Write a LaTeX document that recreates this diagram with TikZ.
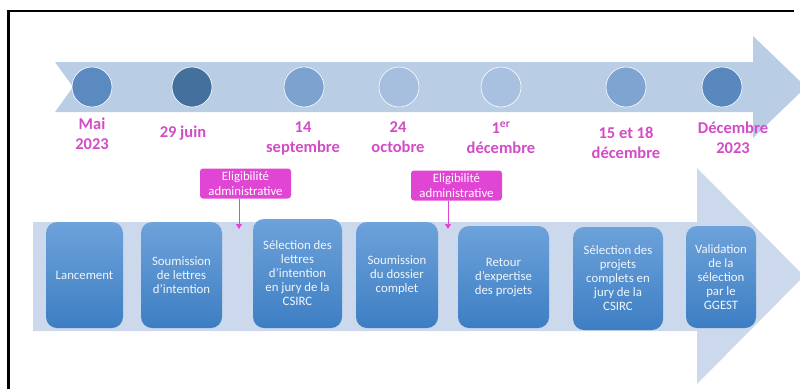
\documentclass[tikz,border=0pt]{standalone}
\usepackage{fontspec}
\setmainfont{Carlito}
\usetikzlibrary{arrows.meta}
\definecolor{bandtop}{HTML}{B9CDE5}
\definecolor{bandlow}{HTML}{CCD9EC}
\definecolor{datepink}{HTML}{D24CC6}
\definecolor{checkpink}{HTML}{E046D3}
\definecolor{boxtop}{HTML}{6DA2DA}
\definecolor{boxbottom}{HTML}{3D7EC3}
\definecolor{boxtext}{HTML}{F2F6FB}
\definecolor{dotA}{HTML}{5A8AC0}
\definecolor{dotB}{HTML}{44709E}
\definecolor{dotC}{HTML}{7CA2CF}
\definecolor{dotD}{HTML}{A6BFDF}
\definecolor{dotE}{HTML}{A9C1E0}
\definecolor{dotF}{HTML}{7EA4D1}
\definecolor{dotG}{HTML}{5888BD}
\begin{document}
\begin{tikzpicture}[x=1pt,y=-1pt,
  date node/.style={font=\fontsize{16.5}{20}\selectfont\bfseries,text=datepink,align=center,inner sep=0pt},
  dot node/.style={circle,draw=white,line width=0.6pt,minimum size=40pt,inner sep=0pt},
  stage node/.style={rounded corners=11pt,top color=boxtop,bottom color=boxbottom,text=boxtext,align=center,inner sep=0pt,font=\fontsize{12.8}{14}\selectfont},
  check node/.style={fill=checkpink,rounded corners=3pt,text=white,align=center,inner sep=0pt,minimum width=91pt,minimum height=30pt,font=\fontsize{12.8}{15.5}\selectfont},
  check arrow/.style={draw=checkpink,line width=1pt,-{Triangle[width=6pt,length=5pt]}}]

  \useasboundingbox (0,0) rectangle (800,389);

  % arrows
  \fill[bandtop] (55,62) -- (753,62) -- (753,36) -- (806,87) -- (753,138) -- (753,112) -- (55,112) -- (73,87) -- cycle;
  \fill[bandlow] (33,222) -- (697,222) -- (697,168) -- (804,276) -- (697,384) -- (697,331) -- (33,331) -- cycle;

  % frame
  \draw[line width=2.6pt] (8.5,389) -- (8.5,11) -- (794,11);

  \node[dot node,fill=dotA] (1) at (92,87) {};
  \node[dot node,fill=dotB] (2) at (192,87) {};
  \node[dot node,fill=dotC] (3) at (304,87) {};
  \node[dot node,fill=dotD] (4) at (399,87) {};
  \node[dot node,fill=dotE] (5) at (501,87) {};
  \node[dot node,fill=dotF] (6) at (626,87) {};
  \node[dot node,fill=dotG] (7) at (722,87) {};

  \node[date node] (may) at (92,134) {Mai\\2023};
  \node[date node] (june) at (183,133) {29 juin};
  \node[date node] (sept) at (303,138) {14\\septembre};
  \node[date node] (oct) at (398,137) {24\\octobre};
  \node[date node] (dec1) at (501,138) {1\textsuperscript{er}\\décembre};
  \node[date node] (dec15) at (626,143) {15 et 18\\décembre};
  \node[date node] (dec23) at (733,138) {Décembre\\2023};

  \node[check node] (check1) at (245.5,183.5) {Eligibilité\\administrative};
  \node[check node] (check2) at (456.5,185.5) {Eligibilité\\administrative};
  \coordinate (in1) at (239,229);
  \coordinate (in2) at (448,229);

  \node[stage node,minimum width=77pt,minimum height=106pt] (s1) at (84.5,275) {Lancement};
  \node[stage node,minimum width=81pt,minimum height=106pt] (s2) at (181.5,275) {Soumission\\de lettres\\d’intention};
  \node[stage node,minimum width=89pt,minimum height=109pt] (s3) at (297.5,273.5) {Sélection des\\lettres\\d’intention\\en jury de la\\CSIRC};
  \node[stage node,minimum width=82pt,minimum height=106pt] (s4) at (397,275) {Soumission\\du dossier\\complet};
  \node[stage node,minimum width=91pt,minimum height=102pt] (s5) at (503.5,277) {Retour\\d’expertise\\des projets};
  \node[stage node,minimum width=90pt,minimum height=103pt] (s6) at (618,278.5) {Sélection des\\projets\\complets en\\jury de la\\CSIRC};
  \node[stage node,minimum width=70pt,minimum height=102pt] (s7) at (721,277) {Validation\\de la\\sélection\\par le\\GGEST};

  \draw[check arrow] (check1.south -| in1) -- (in1);
  \draw[check arrow] (check2.south -| in2) -- (in2);
\end{tikzpicture}
\end{document}
